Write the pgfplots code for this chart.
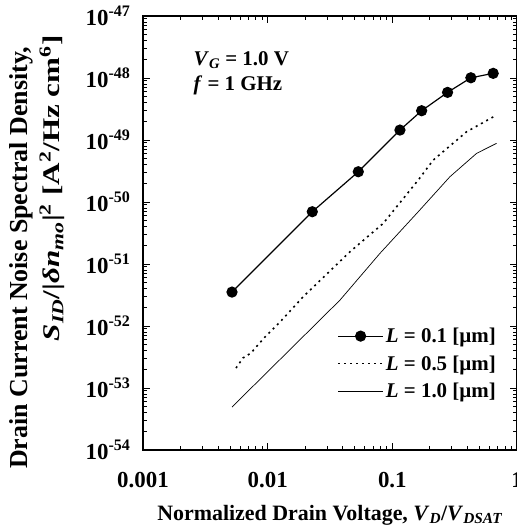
\documentclass[border=0pt]{standalone}
\usepackage{fontspec}
\setmainfont{Liberation Serif}
\usepackage{pgfplots}
\pgfplotsset{compat=1.18}
\usetikzlibrary{calc}

\newcommand{\lbl}{\fontsize{21}{25}\selectfont\bfseries}
\newcommand{\tkl}{\fontsize{23}{27}\selectfont\bfseries}

\begin{document}
\begin{tikzpicture}
\begin{axis}[
  xmode=log, ymode=log,
  scale only axis, width=374bp, height=434bp,
  xmin=0.001, xmax=1, ymin=1e-54, ymax=1e-47,
  clip mode=individual,
  tick align=inside,
  major tick length=7bp, minor tick length=4bp,
  axis line style={line width=1.1bp},
  every tick/.style={black, line width=0.8bp},
  xtick={0.001,0.01,0.1,1},
  xticklabels={0.001,0.01,0.1,1},
  ytick={1e-54,1e-53,1e-52,1e-51,1e-50,1e-49,1e-48,1e-47},
  yticklabels={
    10\textsuperscript{-54},10\textsuperscript{-53},10\textsuperscript{-52},
    10\textsuperscript{-51},10\textsuperscript{-50},10\textsuperscript{-49},
    10\textsuperscript{-48},10\textsuperscript{-47}},
  tick label style={font=\tkl},
  xticklabel style={yshift=-19bp},
  yticklabel style={xshift=-9bp},
  legend style={at={(rel axis cs:0.519,0.286)}, anchor=north west,
    draw=none, fill=none, font=\lbl, inner sep=0pt, row sep=7.5bp,
    /tikz/every even column/.append style={column sep=10bp}},
  legend cell align=left,
  legend image code/.code={
    \draw[mark repeat=2,mark phase=2,#1] plot coordinates {(0bp,0bp) (22.5bp,0bp) (45bp,0bp)};},
]

% L = 0.1 um
\addplot[black, line width=1.2bp, mark=*, mark size=5bp] coordinates {
  (0.005176,3.53e-52) (0.02280,6.98e-51) (0.05333,3.08e-50) (0.1151,1.449e-49)
  (0.1718,2.97e-49) (0.2773,5.87e-49) (0.4266,1.01e-48) (0.6442,1.19e-48)
};
\addlegendentry{\textit{L} = 0.1 [µm]}

% L = 0.5 um
\addplot[black, line width=1.6bp, dash pattern=on 2bp off 4bp] coordinates {
  (0.005572,2.10e-53) (0.006339,3.05e-53) (0.007345,3.67e-53) (0.009333,6.40e-53)
  (0.01256,1.161e-52) (0.01928,2.97e-52) (0.04571,1.578e-51) (0.08453,4.53e-51)
  (0.1614,2.265e-50) (0.2128,4.75e-50) (0.3945,1.361e-49) (0.6855,2.53e-49)
};
\addlegendentry{\textit{L} = 0.5 [µm]}

% L = 1.0 um
\addplot[black, line width=0.7bp] coordinates {
  (0.005176,4.94e-54) (0.03802,2.62e-52) (0.07962,1.489e-51) (0.1614,6.98e-51)
  (0.2897,2.56e-50) (0.4742,6.10e-50) (0.6855,8.85e-50)
};
\addlegendentry{\textit{L} = 1.0 [µm]}

\node[anchor=base west, font=\lbl] at (rel axis cs:0.126,0.887)
  {\textit{V}\textsubscript{\textit{G}} = 1.0 V};
\node[anchor=base west, font=\lbl] at (rel axis cs:0.126,0.829)
  {\textit{f} = 1 GHz};

\node[rotate=90, font=\fontsize{26}{30}\selectfont\bfseries] at (rel axis cs:-0.326,0.443)
  {Drain Current Noise Spectral Density,};
\node[rotate=90, font=\fontsize{24}{28}\selectfont\bfseries] at (rel axis cs:-0.243,0.603)
  {\scalebox{1.3}[1]{\textit{S}\textsubscript{\textit{ID}}/|\textit{δn}\textsubscript{\textit{mo}}|\textsuperscript{2} [A\textsuperscript{2}/Hz cm\textsuperscript{6}]}};
\node[font=\fontsize{22}{26}\selectfont\bfseries] at (rel axis cs:0.5,-0.15)
  {Normalized Drain Voltage, \textit{V}\textsubscript{\textit{D}}/\textit{V}\textsubscript{\textit{DSAT}}};
\end{axis}
\pgfresetboundingbox
\path[use as bounding box] ($(current axis.south west)+(-143bp,-79bp)$)
  rectangle ($(current axis.north east)+(-0.5bp,16bp)$);
\end{tikzpicture}
\end{document}
